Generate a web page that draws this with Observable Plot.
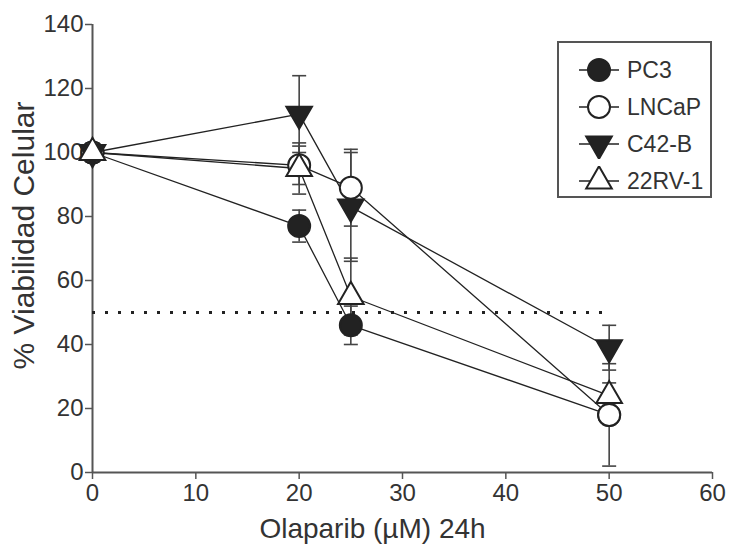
<!DOCTYPE html>
<html>
<head>
<meta charset="utf-8">
<script src="https://cdn.jsdelivr.net/npm/d3@7"></script>
<script src="https://cdn.jsdelivr.net/npm/@observablehq/plot@0.6"></script>
<style>
  html, body { margin: 0; padding: 0; background: #fff; }
  #wrap { position: relative; width: 729px; height: 549px; font-family: "Liberation Sans", Arial, sans-serif; }
  #legend { position: absolute; left: 557px; top: 41px; width: 151px; height: 153px; border: 2px solid #555; background: #fff; box-sizing: content-box; }
  .row { position: absolute; left: 0; display: flex; align-items: center; height: 30px; }
  .row span { font-size: 23px; color: #333; margin-left: 6px; }
</style>
</head>
<body>
<div id="wrap"><div id="legend"></div></div>
<script>
const doses = [0, 20, 25, 50];
const series = ["PC3", "LNCaP", "C42-B", "22RV-1"];
const pc3 = [100, 77, 46, 18];
const pc3Err = [3, 5, 6, 3];
const lncap = [100, 96, 89, 18];
const lncapErr = [2, 6, 12, 16];
const c42b = [100, 112, 83, 39];
const c42bErr = [2, 12, 17, 7];
const rv22 = [100, 95, 55, 24];
const rv22Err = [2, 8, 12, 4];
const xTicks = [0, 10, 20, 30, 40, 50, 60];
const yTicks = [0, 20, 40, 60, 80, 100, 120, 140];
const threshold = 50;
const xTitle = "Olaparib (µM) 24h";
const yTitle = "% Viabilidad Celular";

const values = [pc3, lncap, c42b, rv22];
const errors = [pc3Err, lncapErr, c42bErr, rv22Err];
const table = series.flatMap((s, i) => doses.map((d, j) => ({series: s, dose: d, v: values[i][j], e: errors[i][j]})));

const styles = {
  "PC3":    {symbol: "circle",   fill: "#222", rotate: 0,   r: 11},
  "LNCaP":  {symbol: "circle",   fill: "#fff", rotate: 0,   r: 11},
  "C42-B":  {symbol: "triangle", fill: "#222", rotate: 180, r: 9.5},
  "22RV-1": {symbol: "triangle", fill: "#fff", rotate: 0,   r: 9.5}
};
const drawOrder = ["PC3", "LNCaP", "C42-B", "22RV-1"];

const cap = {draw(ctx, size) { ctx.moveTo(-7, 0); ctx.lineTo(7, 0); }};

const markerMarks = drawOrder.map(s => Plot.dot(table.filter(d => d.series === s), {
  x: "dose", y: "v", symbol: styles[s].symbol, r: styles[s].r, rotate: styles[s].rotate,
  fill: styles[s].fill, stroke: "#222", strokeWidth: 2
}));

const chart = Plot.plot({
  width: 729, height: 549,
  marginLeft: 92, marginRight: 17, marginTop: 24, marginBottom: 77,
  style: {fontFamily: "'Liberation Sans', Arial, sans-serif", color: "#333", background: "#fff", overflow: "visible"},
  x: {domain: [0, 60]},
  y: {domain: [0, 140]},
  marks: [
    Plot.axisX({ticks: xTicks, tickSize: 7, tickPadding: 4, fontSize: 24, label: null, stroke: "#555", strokeWidth: 1.5}),
    Plot.axisY({ticks: yTicks, tickSize: 7, tickPadding: 2, fontSize: 24, label: null, stroke: "#555", strokeWidth: 1.5}),
    Plot.ruleX([0], {y1: 0, y2: 140, stroke: "#555", strokeWidth: 2}),
    Plot.ruleY([0], {x1: 0, x2: 60, stroke: "#555", strokeWidth: 2}),
    Plot.ruleY([threshold], {x1: 0, x2: 50, stroke: "#222", strokeWidth: 3, strokeDasharray: "3,10"}),
    Plot.line(table, {x: "dose", y: "v", z: "series", stroke: "#222", strokeWidth: 1.3}),
    Plot.ruleX(table, {x: "dose", y1: d => d.v - d.e, y2: d => d.v + d.e, stroke: "#444", strokeWidth: 1.6}),
    Plot.dot(table, {x: "dose", y: d => d.v + d.e, symbol: cap, stroke: "#444", strokeWidth: 1.6}),
    Plot.dot(table, {x: "dose", y: d => d.v - d.e, symbol: cap, stroke: "#444", strokeWidth: 1.6}),
    ...markerMarks,
    Plot.text([xTitle], {text: d => d, frameAnchor: "bottom", textAnchor: "middle", lineAnchor: "middle", dx: -30, dy: 57, fontSize: 28, fill: "#333"}),
    Plot.text([yTitle], {text: d => d, frameAnchor: "left", textAnchor: "middle", lineAnchor: "middle", dx: -68, dy: -13, rotate: -90, fontSize: 30, fill: "#333"})
  ]
});
document.getElementById("wrap").prepend(chart);

// Legend
const legend = document.getElementById("legend");
series.forEach((s, i) => {
  const st = styles[s];
  const row = document.createElement("div");
  row.className = "row";
  row.style.top = (12 + i * 37) + "px";
  const svg = d3.create("svg").attr("width", 62).attr("height", 30);
  svg.append("line").attr("x1", 20).attr("x2", 60).attr("y1", 15).attr("y2", 15).attr("stroke", "#222").attr("stroke-width", 1.5);
  const sym = st.symbol === "circle" ? d3.symbolCircle : d3.symbolTriangle;
  svg.append("path")
    .attr("d", d3.symbol(sym, Math.PI * st.r * st.r)())
    .attr("transform", `translate(40,15) rotate(${st.rotate})`)
    .attr("fill", st.fill).attr("stroke", "#222").attr("stroke-width", 2);
  row.append(svg.node());
  const t = document.createElement("span");
  t.textContent = s;
  row.append(t);
  legend.append(row);
});
</script>
</body>
</html>
